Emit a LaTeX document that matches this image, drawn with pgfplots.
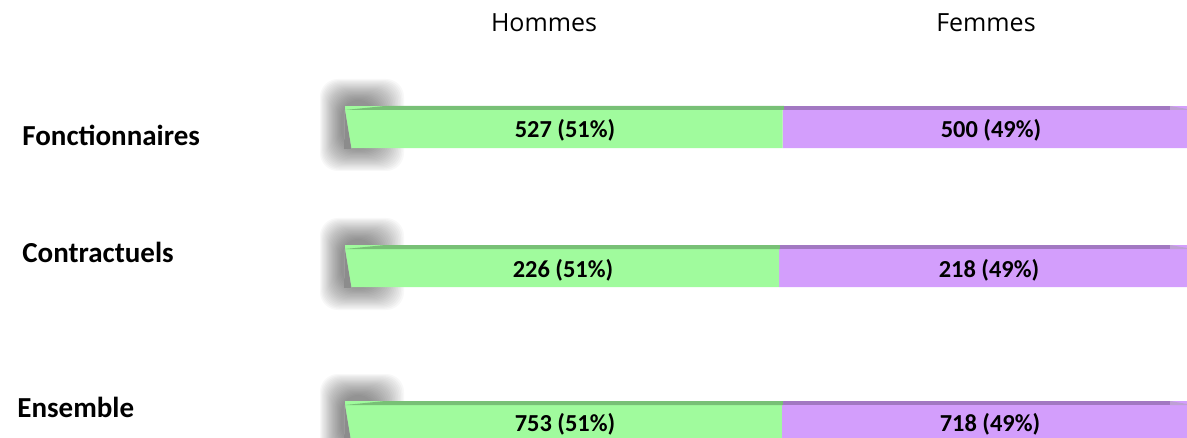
\documentclass[border=0pt]{standalone}
\usepackage{pgfplots}
\pgfplotsset{compat=1.18}
\usepackage{fontspec}
\setmainfont{Carlito}
\newfontfamily\hdr{Open Sans}

\definecolor{homme}{RGB}{160,251,157}
\definecolor{hommetop}{RGB}{120,192,118}
\definecolor{femme}{RGB}{211,158,252}
\definecolor{femmetop}{RGB}{162,120,194}
\tikzset{vlab/.style={font=\bfseries\fontsize{12.2}{14}\selectfont, anchor=base}}

\begin{document}
\begin{tikzpicture}[x=0.5pt,y=-0.5pt]
\path[use as bounding box, clip] (0,0) rectangle (1187,438);

% column headers
\node[font=\hdr\fontsize{12.5}{14}\selectfont, anchor=base] at (544,32) {Hommes};
\node[font=\hdr\fontsize{12.5}{14}\selectfont, anchor=base] at (986,32) {Femmes};

% category labels
\node[font=\bfseries\fontsize{14.5}{16}\selectfont, anchor=base west, inner sep=0pt] at (22,146) {Fonctionnaires};
\node[font=\bfseries\fontsize{14.5}{16}\selectfont, anchor=base west, inner sep=0pt] at (22,262) {Contractuels};
\node[font=\bfseries\fontsize{14.5}{16}\selectfont, anchor=base west, inner sep=0pt] at (17,417) {Ensemble};

% soft shadows behind the left end of each bar
\foreach \yc in {127,266,422}{
  \foreach \k in {0,...,19}{
    \fill[black, opacity=0.028, rounded corners=9pt] (320+\k*1.1,\yc-48+\k*1.1) rectangle (404-\k*1.5,\yc+44-\k*1.2);
  }
}

\begin{axis}[
  at={(172.5pt,-219pt)}, anchor=south west,
  scale only axis, width=426.5pt, height=219pt,
  xbar stacked, bar width=21pt,
  xmin=0, xmax=100, ymin=0, ymax=438, y dir=reverse,
  axis lines=none, ticks=none,
]
\addplot[fill=homme, draw=none] coordinates {(51.3,127) (50.9,266) (51.2,422)};
\addplot[fill=femme, draw=none] coordinates {(48.7,127) (49.1,266) (48.8,422)};
\end{axis}

% darker top face of the bars
\fill[hommetop] (345,110) -- (385,106) -- (784,106) -- (784,110) -- cycle;
\fill[femmetop] (784,106) rectangle (1170,110);
\fill[femmetop!70] (1170,106) -- (1187,109) -- (1187,110) -- (1170,110) -- cycle;
\fill[hommetop] (345,249) -- (385,245) -- (780,245) -- (780,249) -- cycle;
\fill[femmetop] (780,245) rectangle (1170,249);
\fill[femmetop!70] (1170,245) -- (1187,248) -- (1187,249) -- (1170,249) -- cycle;
\fill[hommetop] (345,405) -- (385,401) -- (783,401) -- (783,405) -- cycle;
\fill[femmetop] (783,401) rectangle (1170,405);
\fill[femmetop!70] (1170,401) -- (1187,404) -- (1187,405) -- (1170,405) -- cycle;
% slanted left ends
\foreach \t in {106,245,401}{
  \fill[white] (345,\t+4) -- (351.5,\t+43) -- (344,\t+43) -- cycle;
  \fill[black, opacity=0.45] (345,\t+4) -- (351.5,\t+43) -- (344,\t+43) -- cycle;
}

% value labels
\node[vlab] at (565,138) {527 (51\%)};
\node[vlab] at (991,138) {500 (49\%)};
\node[vlab] at (563,277) {226 (51\%)};
\node[vlab] at (989,277) {218 (49\%)};
\node[vlab] at (565,431) {753 (51\%)};
\node[vlab] at (990,431) {718 (49\%)};
\end{tikzpicture}
\end{document}
